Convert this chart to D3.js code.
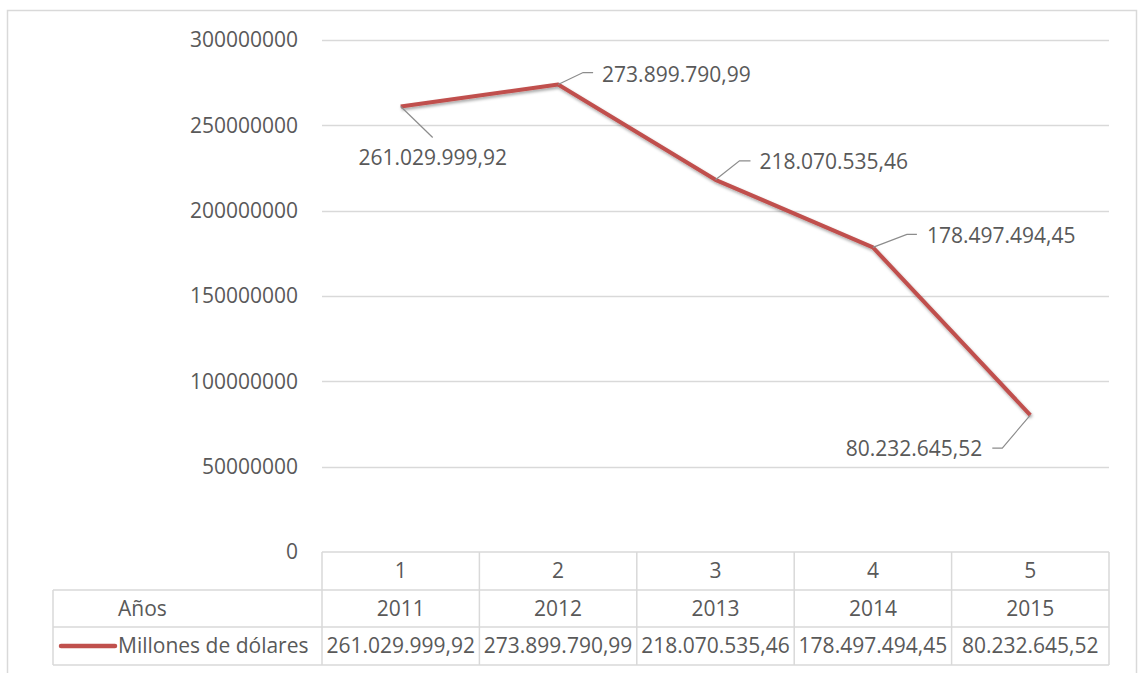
<!DOCTYPE html>
<html><head><meta charset="utf-8">
<script src="https://cdn.jsdelivr.net/npm/d3@7"></script>
<style>
html,body{margin:0;padding:0;background:#fff;}
svg text{font-family:"Open Sans",sans-serif;fill:#595959;}
</style></head>
<body>
<svg id="c" width="1138" height="673"></svg>
<script>
// ---- data ----
const categories = ["1","2","3","4","5"];
const years = ["2011","2012","2013","2014","2015"];
const values = [261029999.92, 273899790.99, 218070535.46, 178497494.45, 80232645.52];
const yTicks = [0, 50000000, 100000000, 150000000, 200000000, 250000000, 300000000];
const seriesName = "Millones de dólares";
const rowHeader = "Años";

// ---- styling / layout ----
const fs = 21;
const plot = {left:322, right:1109, top:40, bottom:552};
const rowH = [38, 37, 38];
const tableLeft = 53;
const lineColor = "#c0504d";
const gridColor = "#d9d9d9";
// label leader offsets (style): [elbow dx, elbow dy, end dx, text dx, anchor]
const labelStyle = [
  {ex:32, ey:31, hx:32, tx:32, ty:51, anchor:"middle"},
  {ex:25, ey:-12, hx:35, tx:44, ty:-10, anchor:"start"},
  {ex:24, ey:-19, hx:35, tx:44, ty:-18, anchor:"start"},
  {ex:34, ey:-13, hx:44, tx:54, ty:-12, anchor:"start"},
  {ex:-28, ey:33, hx:-38, tx:-48, ty:34, anchor:"end"}
];

const svg = d3.select("#c");
const locale = d3.formatLocale({decimal:",", thousands:".", grouping:[3], currency:["$",""]});
const fmt = locale.format(",.2f");

const x = d3.scaleBand().domain(categories).range([plot.left, plot.right]);
const y = d3.scaleLinear().domain([0, 300000000]).range([plot.bottom, plot.top]);

// outer border
svg.append("rect").attr("x",7.5).attr("y",10.5).attr("width",1129).attr("height",680)
  .attr("fill","none").attr("stroke",gridColor).attr("stroke-width",1.5);

// gridlines
svg.append("g").selectAll("line").data(yTicks.filter(d=>d>0)).join("line")
  .attr("x1",plot.left).attr("x2",plot.right)
  .attr("y1",d=>Math.round(y(d))+0.5).attr("y2",d=>Math.round(y(d))+0.5)
  .attr("stroke",gridColor).attr("stroke-width",1.3);

// y axis labels
const yAxis = d3.axisLeft(y).tickValues(yTicks).tickFormat(d3.format("d")).tickSize(0).tickPadding(24);
const ga = svg.append("g").attr("transform",`translate(${plot.left},0)`).call(yAxis);
ga.select(".domain").remove();
ga.selectAll("text").attr("font-size",fs).attr("font-family","Open Sans").attr("fill","#595959");

// table
const tb = svg.append("g");
const r0 = plot.bottom, r1 = r0+rowH[0], r2 = r1+rowH[1], r3 = r2+rowH[2];
const tcol = {stroke:gridColor, "stroke-width":1.5};
function hl(x1,x2,yy){tb.append("line").attr("x1",x1).attr("x2",x2).attr("y1",yy).attr("y2",yy).attr("stroke",gridColor).attr("stroke-width",1.5);}
function vl(xx,y1,y2){tb.append("line").attr("x1",xx).attr("x2",xx).attr("y1",y1).attr("y2",y2).attr("stroke",gridColor).attr("stroke-width",1.5);}
hl(plot.left, plot.right, r0);
hl(tableLeft, plot.right, r1);
hl(tableLeft, plot.right, r2);
hl(tableLeft, plot.right, r3);
vl(tableLeft, r1, r3);
categories.forEach(c=>vl(x(c), r0, r3));
vl(plot.right, r0, r3);

tb.selectAll("text.cat").data(categories).join("text").attr("class","cat")
  .attr("x",d=>x(d)+x.bandwidth()/2).attr("y",(r0+r1)/2).attr("dy","0.35em")
  .attr("text-anchor","middle").attr("font-size",fs).text(d=>d);
tb.selectAll("text.yr").data(years).join("text").attr("class","yr")
  .attr("x",(d,i)=>x(categories[i])+x.bandwidth()/2).attr("y",(r1+r2)/2).attr("dy","0.35em")
  .attr("text-anchor","middle").attr("font-size",fs).text(d=>d);
tb.selectAll("text.val").data(values).join("text").attr("class","val")
  .attr("x",(d,i)=>x(categories[i])+x.bandwidth()/2).attr("y",(r2+r3)/2).attr("dy","0.35em")
  .attr("text-anchor","middle").attr("font-size",fs).text(d=>fmt(d));
tb.append("text").attr("x",118).attr("y",(r1+r2)/2).attr("dy","0.35em").attr("font-size",fs).text(rowHeader);
tb.append("line").attr("x1",61).attr("x2",115).attr("y1",(r2+r3)/2).attr("y2",(r2+r3)/2)
  .attr("stroke",lineColor).attr("stroke-width",4.5).attr("stroke-linecap","round");
tb.append("text").attr("x",118).attr("y",(r2+r3)/2).attr("dy","0.35em").attr("font-size",fs).text(seriesName);

// shadow filter
const defs = svg.append("defs");
const f = defs.append("filter").attr("id","sh").attr("x","-10%").attr("y","-10%").attr("width","120%").attr("height","130%");
f.append("feDropShadow").attr("dx",1).attr("dy",2).attr("stdDeviation",1.5).attr("flood-color","#000").attr("flood-opacity",0.35);

// line
const cx = (d,i)=>x(categories[i])+x.bandwidth()/2;
const line = d3.line().x((d,i)=>cx(d,i)).y(d=>y(d));
svg.append("path").datum(values).attr("d",line).attr("fill","none")
  .attr("stroke",lineColor).attr("stroke-width",4).attr("stroke-linejoin","round")
  .attr("filter","url(#sh)");

// data labels with leader lines
const lg = svg.append("g");
values.forEach((v,i)=>{
  const px = cx(v,i), py = y(v), s = labelStyle[i];
  lg.append("path").attr("d",`M${px},${py}L${px+s.ex},${py+s.ey}L${px+s.hx},${py+s.ey}`)
    .attr("fill","none").attr("stroke","#8c8c8c").attr("stroke-width",1.2);
  lg.append("text").attr("x",px+s.tx).attr("y",py+s.ty).attr("dy","0.35em")
    .attr("text-anchor",s.anchor).attr("font-size",fs).text(fmt(v));
});
</script>
</body></html>
